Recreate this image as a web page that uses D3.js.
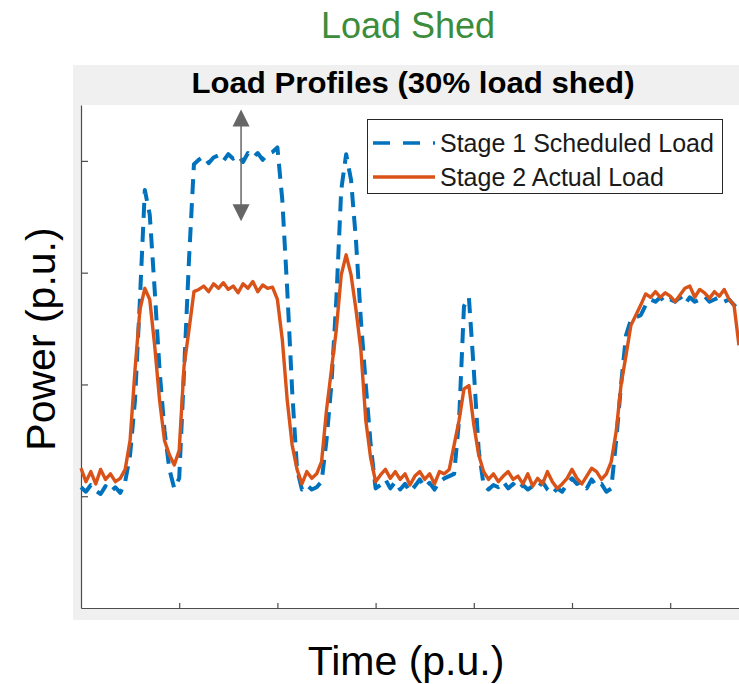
<!DOCTYPE html>
<html>
<head>
<meta charset="utf-8">
<title>Load Profiles (30% load shed)</title>
<script src="https://d3js.org/d3.v7.min.js"></script>
<style>
  body { margin: 0; background: #fff; }
  text { font-family: "Liberation Sans", Arial, Helvetica, sans-serif; }
</style>
</head>
<body>
<svg id="chart" width="739" height="684"></svg>
<script>
// sample spacing along the time axis (p.u.)
const dt = 0.05;

// Stage 1 scheduled load (p.u.), one value per sample
const scheduled = [
  1.08, 1.04, 1.10, 1.05, 1.02, 1.09, 1.04, 1.08, 1.03, 1.13,
  1.37, 1.86, 2.76, 3.74, 3.52, 2.85, 2.13, 1.59, 1.24, 1.07,
  1.16, 2.13, 3.12, 3.97, 4.01, 4.04, 3.98, 4.03, 4.05, 4.00,
  4.06, 4.02, 4.05, 3.99, 4.07, 4.03, 4.07, 4.01, 4.06, 4.08,
  4.12, 3.65, 2.85, 1.95, 1.24, 1.06, 1.10, 1.06, 1.08, 1.13,
  1.50, 2.00, 2.76, 3.74, 4.06, 3.83, 3.29, 2.58, 2.00, 1.46,
  1.07, 1.10, 1.15, 1.07, 1.13, 1.06, 1.11, 1.04, 1.09, 1.15,
  1.08, 1.12, 1.06, 1.13, 1.16, 1.18, 1.20, 1.68, 2.70, 2.78,
  2.13, 1.41, 1.10, 1.06, 1.10, 1.08, 1.13, 1.07, 1.11, 1.06,
  1.10, 1.06, 1.09, 1.07, 1.13, 1.06, 1.02, 1.07, 1.04, 1.11,
  1.16, 1.11, 1.13, 1.07, 1.15, 1.09, 1.11, 1.04, 1.07, 1.50,
  2.00, 2.44, 2.58, 2.60, 2.62, 2.71, 2.76, 2.74, 2.78, 2.73,
  2.76, 2.74, 2.78, 2.72, 2.78, 2.74, 2.76, 2.79, 2.74, 2.76,
  2.78, 2.74, 2.76, 2.71, 2.67
];

// Stage 2 actual load (p.u.)
const actual = [
  1.25, 1.13, 1.22, 1.11, 1.24, 1.15, 1.20, 1.13, 1.16, 1.24,
  1.50, 2.13, 2.67, 2.86, 2.76, 2.35, 1.86, 1.50, 1.37, 1.28,
  1.41, 2.17, 2.49, 2.83, 2.85, 2.88, 2.83, 2.90, 2.86, 2.91,
  2.85, 2.88, 2.82, 2.90, 2.86, 2.92, 2.83, 2.89, 2.86, 2.87,
  2.76, 2.40, 1.86, 1.46, 1.24, 1.11, 1.22, 1.16, 1.20, 1.31,
  1.77, 2.13, 2.49, 2.98, 3.16, 2.98, 2.67, 2.31, 1.68, 1.34,
  1.13, 1.19, 1.24, 1.16, 1.22, 1.15, 1.20, 1.10, 1.18, 1.22,
  1.15, 1.20, 1.11, 1.22, 1.20, 1.24, 1.46, 1.68, 1.96, 1.99,
  1.64, 1.37, 1.22, 1.15, 1.20, 1.13, 1.18, 1.22, 1.15, 1.18,
  1.11, 1.20, 1.09, 1.16, 1.11, 1.22, 1.13, 1.07, 1.11, 1.16,
  1.24, 1.16, 1.11, 1.18, 1.25, 1.22, 1.15, 1.20, 1.31, 1.58,
  2.00, 2.26, 2.53, 2.62, 2.71, 2.81, 2.78, 2.83, 2.78, 2.82,
  2.79, 2.74, 2.80, 2.86, 2.88, 2.78, 2.85, 2.82, 2.77, 2.83,
  2.79, 2.85, 2.76, 2.71, 2.35
];

const seriesNames = ["Stage 1 Scheduled Load", "Stage 2 Actual Load"];
const xTicks = [1, 2, 3, 4, 5, 6];
const yTicks = [1, 2, 3, 4];
// shed arrow, in data units
const shedArrow = { t: 1.63, from: 4.46, to: 3.46 };

const svg = d3.select("#chart");
const W = +svg.attr("width");

// figure background (MATLAB grey) and white axes box
svg.append("rect").attr("x", 73).attr("y", 65).attr("width", W - 73).attr("height", 555)
   .attr("fill", "#f0f0f0");

const x = d3.scaleLinear().domain([0, 7]).range([81, 768.4]);
const y = d3.scaleLinear().domain([0, 4.5]).range([608, 105]);

svg.append("rect")
   .attr("x", x(0)).attr("y", y(4.5))
   .attr("width", W - x(0)).attr("height", y(0) - y(4.5))
   .attr("fill", "#fff");

// axes: inward ticks, no labels
const axisColor = "#4d4d4d";
const gx = svg.append("g").attr("transform", `translate(0,${y(0)})`)
   .call(d3.axisBottom(x).tickValues(xTicks).tickSize(-5).tickSizeOuter(0).tickFormat(""));
const gy = svg.append("g").attr("transform", `translate(${x(0)},0)`)
   .call(d3.axisLeft(y).tickValues(yTicks).tickSize(-7).tickSizeOuter(0).tickFormat(""));
[gx, gy].forEach(g => {
  g.select(".domain").attr("stroke", axisColor).attr("stroke-width", 1.2);
  g.selectAll(".tick line").attr("stroke", axisColor).attr("stroke-width", 1.2);
});

const line = d3.line()
   .x((d, i) => x(i * dt))
   .y(d => y(d));

svg.append("path")
   .datum(scheduled)
   .attr("fill", "none")
   .attr("stroke", "#0072BD")
   .attr("stroke-width", 4)
   .attr("stroke-dasharray", "15,9")
   .attr("stroke-linejoin", "round")
   .attr("d", line);

svg.append("path")
   .datum(actual)
   .attr("fill", "none")
   .attr("stroke", "#D95319")
   .attr("stroke-width", 3.4)
   .attr("stroke-linejoin", "round")
   .attr("d", line);

// double arrow showing the shed amount
const ax = x(shedArrow.t), aTop = y(shedArrow.from), aBot = y(shedArrow.to);
svg.append("line").attr("x1", ax).attr("x2", ax).attr("y1", aTop + 8).attr("y2", aBot - 8)
   .attr("stroke", "#666").attr("stroke-width", 1.5);
svg.append("path").attr("fill", "#666")
   .attr("d", `M${ax},${aTop} L${ax - 8.5},${aTop + 17} L${ax + 8.5},${aTop + 17} Z`);
svg.append("path").attr("fill", "#666")
   .attr("d", `M${ax},${aBot} L${ax - 8.5},${aBot - 17} L${ax + 8.5},${aBot - 17} Z`);

// legend
const lg = svg.append("g");
lg.append("rect").attr("x", 367.5).attr("y", 119.5).attr("width", 355).attr("height", 74)
  .attr("fill", "#fff").attr("stroke", "#262626").attr("stroke-width", 1);
const rows = [
  { name: seriesNames[0], color: "#0072BD", dash: "17,13", yy: 143 },
  { name: seriesNames[1], color: "#D95319", dash: null, yy: 177 }
];
rows.forEach(r => {
  lg.append("line").attr("x1", 373).attr("x2", 435).attr("y1", r.yy).attr("y2", r.yy)
    .attr("stroke", r.color).attr("stroke-width", 3.5)
    .attr("stroke-dasharray", r.dash);
  lg.append("text").attr("x", 440).attr("y", r.yy + 9)
    .attr("font-size", 25).attr("fill", "#1a1a1a").text(r.name);
});

// titles and labels
svg.append("text").attr("x", 413).attr("y", 93).attr("text-anchor", "middle")
   .attr("font-size", 29).attr("font-weight", "bold").attr("fill", "#000")
   .attr("textLength", 443).attr("lengthAdjust", "spacingAndGlyphs")
   .text("Load Profiles (30% load shed)");

svg.append("text").attr("x", 408).attr("y", 38).attr("text-anchor", "middle")
   .attr("font-size", 36).attr("fill", "#3b8d3b").text("Load Shed");

svg.append("text").attr("x", 406).attr("y", 675).attr("text-anchor", "middle")
   .attr("font-size", 41).attr("fill", "#000").text("Time (p.u.)");

svg.append("text").attr("transform", "translate(55,339) rotate(-90)")
   .attr("text-anchor", "middle").attr("font-size", 41).attr("fill", "#000")
   .text("Power (p.u.)");
</script>
</body>
</html>
